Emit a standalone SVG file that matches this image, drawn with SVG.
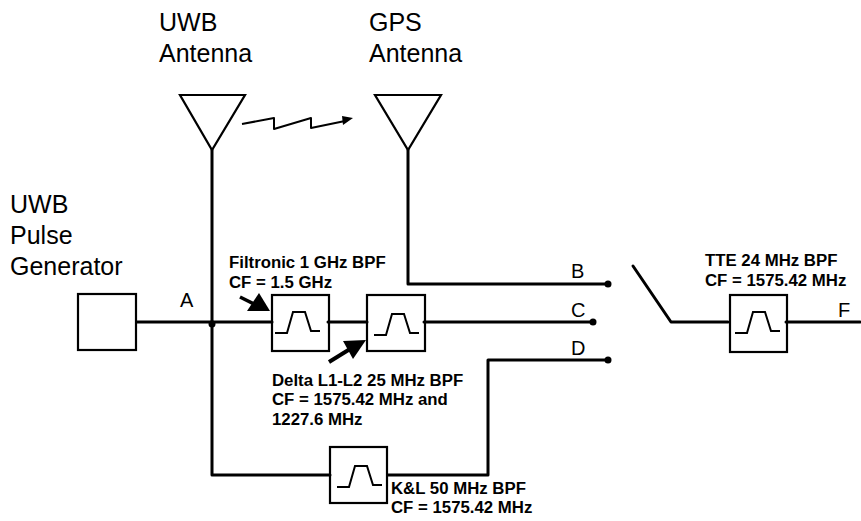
<svg xmlns="http://www.w3.org/2000/svg" width="861" height="521" viewBox="0 0 861 521">
<defs>
<style>
.w{fill:none;stroke:#000;stroke-width:3;stroke-linejoin:round;stroke-linecap:round}
.b{fill:#fff;stroke:#000;stroke-width:2.2}
.t{fill:none;stroke:#000;stroke-width:2}
.l{font-family:"Liberation Sans",Arial,sans-serif;font-size:25px;fill:#000}
.m{font-family:"Liberation Sans",Arial,sans-serif;font-size:20px;fill:#000}
.s{font-family:"Liberation Sans",Arial,sans-serif;font-size:16.8px;font-weight:bold;fill:#000}
.d{fill:#000}
</style>
<g id="pb"><path class="t" d="M0 0H12L18-21H30L36-2H45"/></g>
</defs>
<rect width="861" height="521" fill="#fff"/>
<g id="uwb-antenna"><path fill="#fff" stroke="#000" stroke-width="2.2" stroke-linejoin="miter" d="M180 95H245L212 150Z"/><text class="l" x="159" y="31">UWB</text><text class="l" x="159" y="62">Antenna</text></g>
<g id="gps-antenna"><path fill="#fff" stroke="#000" stroke-width="2.2" stroke-linejoin="miter" d="M375 95H441L408 150Z"/><text class="l" x="369" y="31">GPS</text><text class="l" x="369" y="62">Antenna</text></g>
<g id="pulse-generator"><rect class="b" x="78" y="294" width="58" height="56"/><text class="l" x="10" y="213">UWB</text><text class="l" x="10" y="244">Pulse</text><text class="l" x="10" y="275">Generator</text></g>
<g id="filter-filtronic"><rect class="b" x="272" y="295" width="57" height="56"/><use href="#pb" x="275" y="333"/><text class="s" x="229" y="268">Filtronic 1 GHz BPF</text><text class="s" x="229" y="288">CF = 1.5 GHz</text></g>
<g id="filter-delta"><rect class="b" x="367" y="295" width="58" height="56"/><use href="#pb" x="374" y="335"/><text class="s" x="272" y="386">Delta L1-L2 25 MHz BPF</text><text class="s" x="272" y="405">CF = 1575.42 MHz and</text><text class="s" x="272" y="425">1227.6 MHz</text></g>
<g id="filter-kl"><rect class="b" x="330" y="447" width="57" height="56"/><use href="#pb" x="337" y="487"/><text class="s" x="391" y="494">K&amp;L 50 MHz BPF</text><text class="s" x="391" y="513">CF = 1575.42 MHz</text></g>
<g id="filter-tte"><rect class="b" x="730" y="295" width="57" height="57"/><use href="#pb" x="735" y="333"/><text class="s" x="705" y="266">TTE 24 MHz BPF</text><text class="s" x="705" y="286">CF = 1575.42 MHz</text></g>
<g id="connectors">
<path class="w" d="M212 150V475H330"/>
<path class="w" d="M137 322H272"/>
<path class="w" d="M328 322H367"/>
<path class="w" d="M424 322H593"/>
<path class="w" d="M408 150V284H608"/>
<path class="w" d="M388 475H488V360H608"/>
<path class="w" d="M633 266L671 322H728"/>
<path class="w" d="M786 322H860"/>
<circle class="d" cx="212" cy="324" r="3.5"/>
<circle class="d" cx="608" cy="284" r="3.5"/>
<circle class="d" cx="593" cy="322" r="3.5"/>
<circle class="d" cx="608" cy="360" r="3.5"/>
<path fill="none" stroke="#000" stroke-width="2" stroke-linejoin="round" d="M242 124L274 118V129L311 118V128L345 121"/>
<path class="d" d="M353 118L342 116L343 125Z"/>
<path fill="none" stroke="#000" stroke-width="3.5" d="M240 297L258 306"/>
<path class="d" d="M270 311L247 311L259 293Z"/>
<path fill="none" stroke="#000" stroke-width="4" d="M329 362L350 349"/>
<path class="d" d="M366 340L353 359L343 341Z"/>
</g>
<g id="labels">
<text class="m" x="180" y="307">A</text>
<text class="m" x="571" y="278">B</text>
<text class="m" x="571" y="317">C</text>
<text class="m" x="571" y="355">D</text>
<text class="m" x="838" y="317">F</text>
</g>
</svg>
